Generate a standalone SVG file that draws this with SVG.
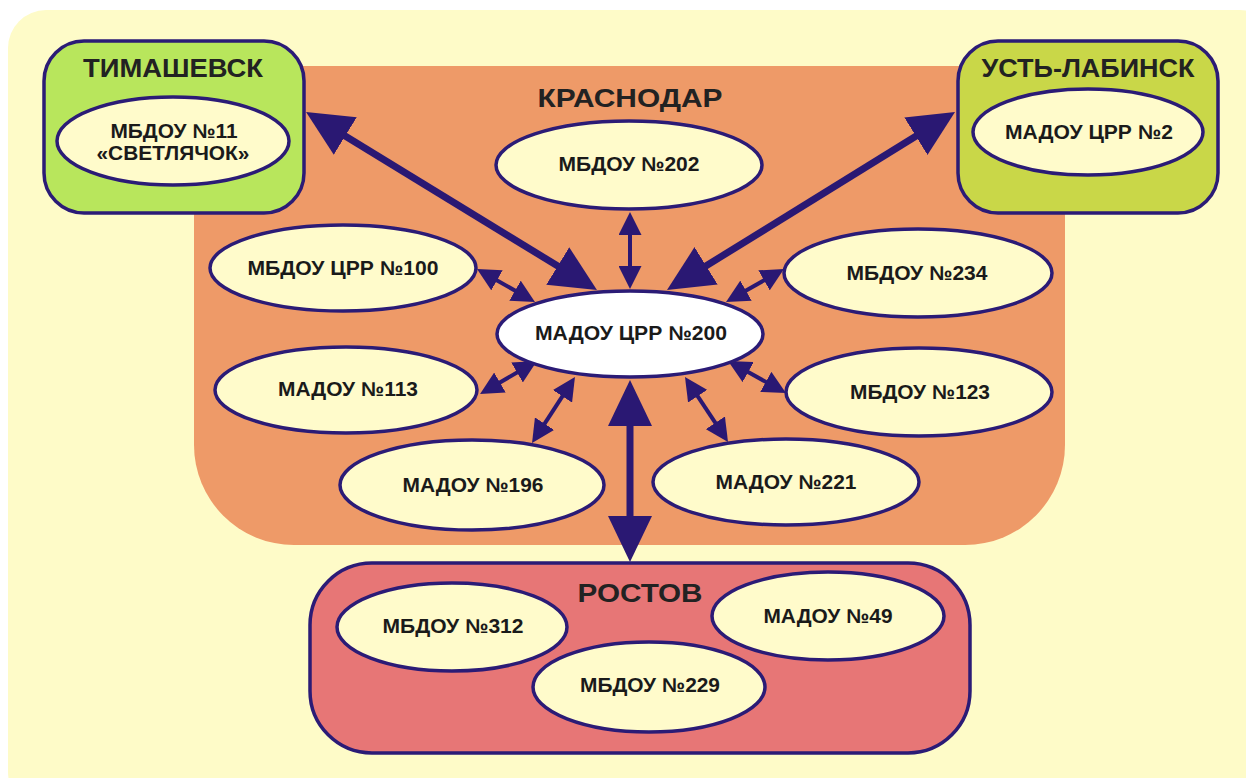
<svg xmlns="http://www.w3.org/2000/svg" width="1246" height="778" viewBox="0 0 1246 778">
<style>
.box{stroke:#2B1B76;stroke-width:3.5}
.ell{fill:#FFFBCB;stroke:#2B1B76;stroke-width:3.5}
.t{font-family:"Liberation Sans",Arial,sans-serif;font-weight:bold;fill:#1A1A1A;text-anchor:middle}
.lbl{font-size:20px}
.ttl{font-size:26px;fill:#222}
.thin{stroke:#2A1873;stroke-width:4;fill:none;marker-start:url(#hs);marker-end:url(#hs)}
.thick{stroke:#2A1873;stroke-width:7;fill:none;marker-start:url(#hb);marker-end:url(#hb)}
</style>
<defs>
<marker id="hs" markerUnits="userSpaceOnUse" markerWidth="23" markerHeight="23" refX="13" refY="11.5" orient="auto-start-reverse" viewBox="0 0 23 23"><path d="M0,0 L23,11.5 L0,23 z" fill="#2A1873"/></marker>
<marker id="hb" markerUnits="userSpaceOnUse" markerWidth="46" markerHeight="44" refX="26" refY="22" orient="auto-start-reverse" viewBox="0 0 46 44"><path d="M0,0 L46,22 L0,44 z" fill="#2A1873"/></marker>
</defs>
<rect x="0" y="0" width="1246" height="778" fill="#FFFFFF"/>
<rect x="8" y="10" width="1270" height="800" rx="38" fill="#FEFBC8"/>
<g id="krasnodar">
<path d="M194,66 H1065 V445 A100,100 0 0 1 965,545 H294 A100,100 0 0 1 194,445 Z" fill="#EE9A68"/>
<text class="t ttl" x="630" y="107" textLength="185" lengthAdjust="spacingAndGlyphs">КРАСНОДАР</text>
</g>
<g id="timashevsk">
<rect class="box" x="44" y="41" width="260" height="172" rx="40" fill="#B8E65C"/>
<text class="t ttl" x="173" y="77" textLength="180" lengthAdjust="spacingAndGlyphs">ТИМАШЕВСК</text>
</g>
<g id="ust-labinsk">
<rect class="box" x="958" y="41" width="260" height="172" rx="40" fill="#C9D748"/>
<text class="t ttl" x="1088" y="77" textLength="213" lengthAdjust="spacingAndGlyphs">УСТЬ-ЛАБИНСК</text>
</g>
<g id="rostov">
<rect class="box" x="310" y="563" width="660" height="190" rx="62" fill="#E77676"/>
<text class="t ttl" x="640" y="602" textLength="125" lengthAdjust="spacingAndGlyphs">РОСТОВ</text>
</g>
<g id="connectors">
<line class="thin" x1="630" y1="222" x2="630" y2="279"/>
<line class="thin" x1="485.7" y1="273.9" x2="526.3" y2="297.1"/>
<line class="thin" x1="488.7" y1="389" x2="528.3" y2="366"/>
<line class="thin" x1="537.5" y1="434.6" x2="569.5" y2="385.4"/>
<line class="thin" x1="775.3" y1="273.9" x2="734.7" y2="297.1"/>
<line class="thin" x1="777.2" y1="388.2" x2="736.8" y2="365.8"/>
<line class="thin" x1="722.5" y1="433.7" x2="690.5" y2="385.3"/>
<line class="thick" x1="323.1" y1="122.4" x2="579.9" y2="279.6"/>
<line class="thick" x1="938" y1="122.5" x2="684" y2="279.5"/>
<line class="thick" x1="630" y1="400" x2="630" y2="542"/>
</g>
<g id="n-svetlyachok">
<ellipse class="ell" cx="173" cy="141" rx="116" ry="44"/>
<text class="t lbl" x="174" y="138" textLength="127" lengthAdjust="spacingAndGlyphs">МБДОУ №11</text>
<text class="t lbl" x="173" y="160" textLength="153" lengthAdjust="spacingAndGlyphs">«СВЕТЛЯЧОК»</text>
</g>
<g id="n-crr2">
<ellipse class="ell" cx="1088" cy="132" rx="115" ry="43"/>
<text class="t lbl" x="1089" y="139" textLength="168" lengthAdjust="spacingAndGlyphs">МАДОУ ЦРР №2</text>
</g>
<g id="n-202">
<ellipse class="ell" cx="629" cy="165" rx="133" ry="44"/>
<text class="t lbl" x="629" y="171" textLength="141" lengthAdjust="spacingAndGlyphs">МБДОУ №202</text>
</g>
<g id="n-100">
<ellipse class="ell" cx="343" cy="268" rx="133" ry="43"/>
<text class="t lbl" x="343" y="275" textLength="191" lengthAdjust="spacingAndGlyphs">МБДОУ ЦРР №100</text>
</g>
<g id="n-113">
<ellipse class="ell" cx="346" cy="390" rx="131" ry="43"/>
<text class="t lbl" x="348" y="396" textLength="140" lengthAdjust="spacingAndGlyphs">МАДОУ №113</text>
</g>
<g id="n-196">
<ellipse class="ell" cx="472" cy="485" rx="132" ry="45"/>
<text class="t lbl" x="473" y="492" textLength="141" lengthAdjust="spacingAndGlyphs">МАДОУ №196</text>
</g>
<g id="n-200">
<ellipse class="ell" cx="630" cy="334" rx="133" ry="43" fill="#FFFFFF" style="fill:#FFFFFF"/>
<text class="t lbl" x="631" y="340" textLength="192" lengthAdjust="spacingAndGlyphs">МАДОУ ЦРР №200</text>
</g>
<g id="n-234">
<ellipse class="ell" cx="918" cy="273" rx="134" ry="44"/>
<text class="t lbl" x="917" y="280" textLength="141" lengthAdjust="spacingAndGlyphs">МБДОУ №234</text>
</g>
<g id="n-123">
<ellipse class="ell" cx="919" cy="392" rx="133" ry="44"/>
<text class="t lbl" x="920" y="399" textLength="140" lengthAdjust="spacingAndGlyphs">МБДОУ №123</text>
</g>
<g id="n-221">
<ellipse class="ell" cx="786" cy="482" rx="133" ry="43"/>
<text class="t lbl" x="786" y="489" textLength="141" lengthAdjust="spacingAndGlyphs">МАДОУ №221</text>
</g>
<g id="n-312">
<ellipse class="ell" cx="452" cy="627" rx="115" ry="44"/>
<text class="t lbl" x="453" y="633" textLength="141" lengthAdjust="spacingAndGlyphs">МБДОУ №312</text>
</g>
<g id="n-49">
<ellipse class="ell" cx="828" cy="616" rx="116" ry="44"/>
<text class="t lbl" x="828" y="623" textLength="129" lengthAdjust="spacingAndGlyphs">МАДОУ №49</text>
</g>
<g id="n-229">
<ellipse class="ell" cx="649" cy="687" rx="116" ry="45"/>
<text class="t lbl" x="650" y="692" textLength="140" lengthAdjust="spacingAndGlyphs">МБДОУ №229</text>
</g>
</svg>
